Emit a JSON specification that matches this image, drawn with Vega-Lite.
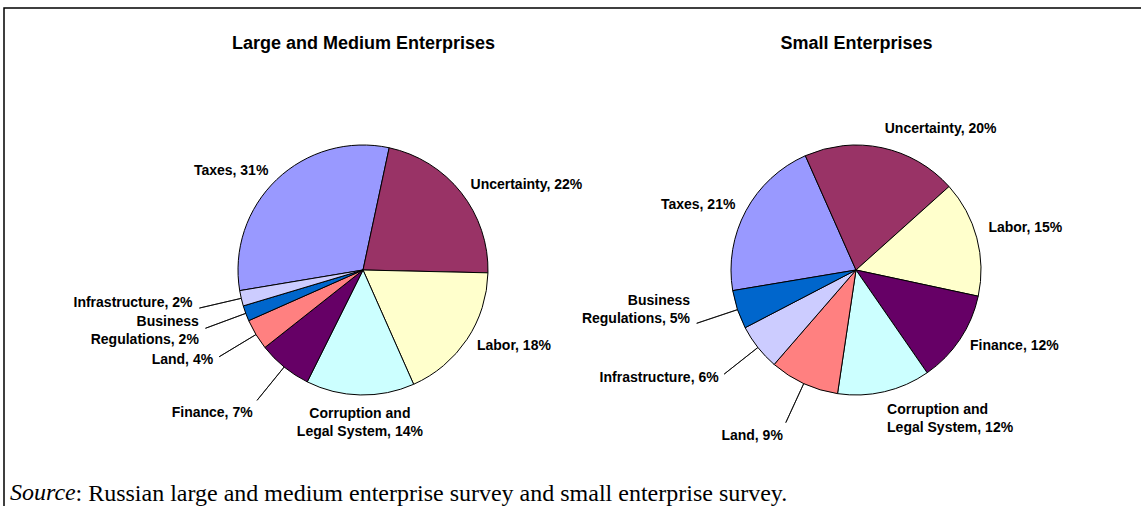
{
  "$schema": "https://vega.github.io/schema/vega-lite/v6.json",
  "autosize": "none",
  "width": 1140,
  "height": 524,
  "padding": {"left": 4, "top": 8, "right": -3, "bottom": -26},
  "background": "white",
  "title": {
    "text": "Source",
    "orient": "bottom",
    "anchor": "start",
    "frame": "group",
    "offset": -32,
    "baseline": "alphabetic",
    "dx": 6,
    "font": "Liberation Serif",
    "fontStyle": "italic",
    "fontWeight": "normal",
    "fontSize": 24,
    "color": "black"
  },
  "data": {
    "values": [
      {"panel": "Large and Medium Enterprises", "rank": 1, "category": "Taxes", "value": 31, "label": "Taxes, 31%"},
      {"panel": "Large and Medium Enterprises", "rank": 2, "category": "Uncertainty", "value": 22, "label": "Uncertainty, 22%"},
      {"panel": "Large and Medium Enterprises", "rank": 3, "category": "Labor", "value": 18, "label": "Labor, 18%"},
      {"panel": "Large and Medium Enterprises", "rank": 4, "category": "Corruption and Legal System", "value": 14, "label": "Corruption and\nLegal System, 14%"},
      {"panel": "Large and Medium Enterprises", "rank": 5, "category": "Finance", "value": 7, "label": "Finance, 7%"},
      {"panel": "Large and Medium Enterprises", "rank": 6, "category": "Land", "value": 4, "label": "Land, 4%"},
      {"panel": "Large and Medium Enterprises", "rank": 7, "category": "Business Regulations", "value": 2, "label": "Business\nRegulations, 2%"},
      {"panel": "Large and Medium Enterprises", "rank": 8, "category": "Infrastructure", "value": 2, "label": "Infrastructure, 2%"},
      {"panel": "Small Enterprises", "rank": 1, "category": "Taxes", "value": 21, "label": "Taxes, 21%"},
      {"panel": "Small Enterprises", "rank": 2, "category": "Uncertainty", "value": 20, "label": "Uncertainty, 20%"},
      {"panel": "Small Enterprises", "rank": 3, "category": "Labor", "value": 15, "label": "Labor, 15%"},
      {"panel": "Small Enterprises", "rank": 4, "category": "Finance", "value": 12, "label": "Finance, 12%"},
      {"panel": "Small Enterprises", "rank": 5, "category": "Corruption and Legal System", "value": 12, "label": "Corruption and\nLegal System, 12%"},
      {"panel": "Small Enterprises", "rank": 6, "category": "Land", "value": 9, "label": "Land, 9%"},
      {"panel": "Small Enterprises", "rank": 7, "category": "Infrastructure", "value": 6, "label": "Infrastructure, 6%"},
      {"panel": "Small Enterprises", "rank": 8, "category": "Business Regulations", "value": 5, "label": "Business\nRegulations, 5%"}
    ]
  },
  "encoding": {
    "x": {
      "field": "panel",
      "type": "nominal",
      "sort": ["Large and Medium Enterprises", "Small Enterprises"],
      "scale": {"type": "point", "range": [359, 852], "padding": 0},
      "axis": {
        "orient": "top",
        "domain": false,
        "ticks": false,
        "tickSize": 0,
        "grid": false,
        "labelPadding": -40,
        "labelBaseline": "alphabetic",
        "labelAngle": 0,
        "labelAlign": "center",
        "labelFont": "Liberation Sans",
        "labelFontWeight": "bold",
        "labelFontSize": 18,
        "labelColor": "black",
        "labelLimit": 600,
        "labelOverlap": false,
        "title": ": Russian large and medium enterprise survey and small enterprise survey.",
        "titleX": 71,
        "titleY": 492,
        "titleAlign": "left",
        "titleAngle": 0,
        "titleBaseline": "alphabetic",
        "titleFont": "Liberation Serif",
        "titleFontSize": 24,
        "titleFontWeight": "normal",
        "titleColor": "black"
      }
    },
    "theta": {
      "field": "value",
      "type": "quantitative",
      "stack": true,
      "scale": {"domain": [0, 100], "range": [-1.7366, 4.5466]}
    },
    "order": {"field": "rank", "type": "quantitative"},
    "detail": {"field": "category", "type": "nominal"}
  },
  "layer": [
    {
      "transform": [{"filter": "datum.panel === 'Large and Medium Enterprises'"}],
      "mark": {"type": "arc", "radius": 125, "stroke": "black", "strokeWidth": 1},
      "encoding": {
        "color": {
          "field": "category",
          "type": "nominal",
          "legend": null,
          "scale": {
            "domain": ["Taxes", "Uncertainty", "Labor", "Corruption and Legal System", "Finance", "Land", "Business Regulations", "Infrastructure"],
            "range": ["#9999FF", "#993366", "#FFFFCC", "#CCFFFF", "#660066", "#FF8080", "#0066CC", "#CCCCFF"]
          }
        }
      }
    },
    {
      "transform": [{"filter": "datum.panel === 'Large and Medium Enterprises'"}],
      "mark": {"type": "arc", "radius": 168, "radius2": 125, "padAngle": 3.14, "filled": false, "stroke": "black", "strokeWidth": 0.8, "strokeOpacity": {"expr": "datum.value < 10 ? 1 : 0"}},
      "encoding": {}
    },
    {
      "transform": [{"filter": "datum.panel === 'Large and Medium Enterprises'"}],
      "mark": {
        "type": "text",
        "radius": {"expr": "datum.value < 10 ? 175 : 137"},
        "align": {"expr": "sin(-1.7366 + PI * (datum.value_start + datum.value_end) / 100) > 0.2 ? 'left' : (sin(-1.7366 + PI * (datum.value_start + datum.value_end) / 100) < -0.2 ? 'right' : 'center')"},
        "baseline": {"expr": "abs(cos(-1.7366 + PI * (datum.value_start + datum.value_end) / 100)) > 0.75 ? (cos(-1.7366 + PI * (datum.value_start + datum.value_end) / 100) > 0 ? 'bottom' : 'top') : (abs(cos(-1.7366 + PI * (datum.value_start + datum.value_end) / 100)) < 0.33 ? 'bottom' : 'middle')"},
        "dy": {"expr": "indexof(datum.label, '\\n') < 0 ? 0 : (abs(cos(-1.7366 + PI * (datum.value_start + datum.value_end) / 100)) > 0.75 ? (cos(-1.7366 + PI * (datum.value_start + datum.value_end) / 100) > 0 ? -18 : 0) : (abs(cos(-1.7366 + PI * (datum.value_start + datum.value_end) / 100)) < 0.33 ? -18 : -9))"},
        "font": "Liberation Sans",
        "fontWeight": "bold",
        "fontSize": 14,
        "lineBreak": "\n",
        "lineHeight": 18,
        "color": "black"
      },
      "encoding": {"text": {"field": "label", "type": "nominal"}}
    },
    {
      "transform": [{"filter": "datum.panel === 'Small Enterprises'"}],
      "mark": {"type": "arc", "radius": 125, "stroke": "black", "strokeWidth": 1},
      "encoding": {
        "color": {
          "field": "category",
          "type": "nominal",
          "legend": null,
          "scale": {
            "domain": ["Taxes", "Uncertainty", "Labor", "Corruption and Legal System", "Finance", "Land", "Business Regulations", "Infrastructure"],
            "range": ["#9999FF", "#993366", "#FFFFCC", "#CCFFFF", "#660066", "#FF8080", "#0066CC", "#CCCCFF"]
          }
        }
      }
    },
    {
      "transform": [{"filter": "datum.panel === 'Small Enterprises'"}],
      "mark": {"type": "arc", "radius": 168, "radius2": 125, "padAngle": 3.14, "filled": false, "stroke": "black", "strokeWidth": 0.8, "strokeOpacity": {"expr": "datum.value < 10 ? 1 : 0"}},
      "encoding": {}
    },
    {
      "transform": [{"filter": "datum.panel === 'Small Enterprises'"}],
      "mark": {
        "type": "text",
        "radius": {"expr": "datum.value < 10 ? 175 : 137"},
        "align": {"expr": "sin(-1.7366 + PI * (datum.value_start + datum.value_end) / 100) > 0.2 ? 'left' : (sin(-1.7366 + PI * (datum.value_start + datum.value_end) / 100) < -0.2 ? 'right' : 'center')"},
        "baseline": {"expr": "abs(cos(-1.7366 + PI * (datum.value_start + datum.value_end) / 100)) > 0.75 ? (cos(-1.7366 + PI * (datum.value_start + datum.value_end) / 100) > 0 ? 'bottom' : 'top') : (abs(cos(-1.7366 + PI * (datum.value_start + datum.value_end) / 100)) < 0.33 ? 'bottom' : 'middle')"},
        "dy": {"expr": "indexof(datum.label, '\\n') < 0 ? 0 : (abs(cos(-1.7366 + PI * (datum.value_start + datum.value_end) / 100)) > 0.75 ? (cos(-1.7366 + PI * (datum.value_start + datum.value_end) / 100) > 0 ? -18 : 0) : (abs(cos(-1.7366 + PI * (datum.value_start + datum.value_end) / 100)) < 0.33 ? -18 : -9))"},
        "font": "Liberation Sans",
        "fontWeight": "bold",
        "fontSize": 14,
        "lineBreak": "\n",
        "lineHeight": 18,
        "color": "black"
      },
      "encoding": {"text": {"field": "label", "type": "nominal"}}
    }
  ],
  "config": {
    "view": {"stroke": "black", "strokeWidth": 1.5},
    "font": "Liberation Sans"
  }
}
